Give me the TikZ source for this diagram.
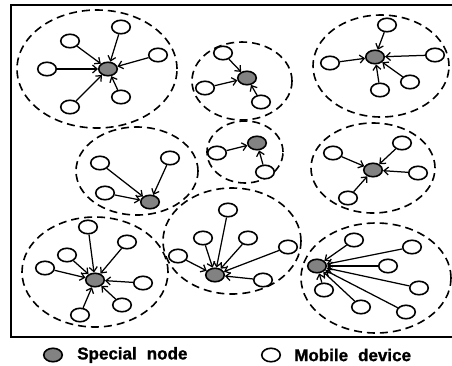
\documentclass[tikz,border=0pt]{standalone}
\usepackage{fontspec}
\setmainfont{Liberation Sans}
\newfontfamily\legendfont{Liberation Sans}[BoldFeatures={FakeBold=1.2}]
\usetikzlibrary{arrows.meta,shapes.geometric,positioning}
\begin{document}
\begin{tikzpicture}[x=1pt,y=-1pt,>={Straight Barb[length=4.5pt,width=8pt]}]
  \definecolor{shade}{HTML}{828282}
  \tikzset{mobile/.style={draw,ellipse,line width=1.6pt,fill=white,inner sep=0pt,minimum width=18.5pt,minimum height=13.5pt},
    special/.style={mobile,fill=shade},
    zone/.style={draw,line width=1.6pt,dash pattern=on 8pt off 5pt},
    link/.style={->,line width=1.25pt},
    legend/.style={font=\legendfont\fontsize{17}{17}\selectfont\bfseries,inner sep=0pt}}
  \useasboundingbox (0,0) rectangle (452,365);
  \draw[line width=2.2pt] (11,5) rectangle (454,337);
  % cluster zones
  \draw[zone] (97,69) ellipse [x radius=80pt,y radius=59pt];
  \draw[zone] (242,81) ellipse [x radius=50pt,y radius=39pt];
  \draw[zone] (381,66) ellipse [x radius=68pt,y radius=51pt];
  \draw[zone] (137,171) ellipse [x radius=61pt,y radius=44pt];
  \draw[zone] (245,152) ellipse [x radius=38pt,y radius=31pt];
  \draw[zone] (373,168) ellipse [x radius=62pt,y radius=45pt];
  \draw[zone] (95,272) ellipse [x radius=73pt,y radius=55pt];
  \draw[zone] (232,241) ellipse [x radius=69pt,y radius=53pt];
  \draw[zone] (376,278) ellipse [x radius=75pt,y radius=55pt];
  % special nodes
  \node[special] (sa) at (108,69) {};
  \node[special] (sb) at (247,78) {};
  \node[special] (sc) at (375,57) {};
  \node[special] (sd) at (150,202) {};
  \node[special] (se) at (257,143) {};
  \node[special] (sf) at (373,170) {};
  \node[special] (sg) at (95,280) {};
  \node[special] (sh) at (215,275) {};
  \node[special] (si) at (317,266) {};
  % mobile devices and their links
  \foreach \p [count=\i] in {(47,69),(70,41),(121,27),(158,55),(121,97),(70,107)}
    {\node[mobile] (ma\i) at \p {}; \draw[link] (ma\i) -- (sa);}
  \foreach \p [count=\i] in {(223,53),(205,88),(261,102)}
    {\node[mobile] (mb\i) at \p {}; \draw[link] (mb\i) -- (sb);}
  \foreach \p [count=\i] in {(387,25),(435,55),(330,63),(410,82),(380,90)}
    {\node[mobile] (mc\i) at \p {}; \draw[link] (mc\i) -- (sc);}
  \foreach \p [count=\i] in {(100,163),(170,158),(105,193)}
    {\node[mobile] (md\i) at \p {}; \draw[link] (md\i) -- (sd);}
  \foreach \p [count=\i] in {(217,153),(265,172)}
    {\node[mobile] (me\i) at \p {}; \draw[link] (me\i) -- (se);}
  \foreach \p [count=\i] in {(333,153),(402,143),(418,173),(348,198)}
    {\node[mobile] (mf\i) at \p {}; \draw[link] (mf\i) -- (sf);}
  \foreach \p [count=\i] in {(88,227),(127,242),(67,255),(45,268),(143,283),(122,305),(80,315)}
    {\node[mobile] (mg\i) at \p {}; \draw[link] (mg\i) -- (sg);}
  \foreach \p [count=\i] in {(228,210),(203,238),(248,238),(288,247),(178,256),(263,280)}
    {\node[mobile] (mh\i) at \p {}; \draw[link] (mh\i) -- (sh);}
  \foreach \p [count=\i] in {(354,240),(412,247),(388,266),(419,288),(324,290),(361,307),(406,312)}
    {\node[mobile] (mi\i) at \p {}; \draw[link] (mi\i) -- (si);}
  % legend
  \node[special] (keyspecial) at (53,355) {};
  \node[legend,right=14pt of keyspecial] (keyspeciallabel) {Special\hspace{10pt}node};
  \node[mobile] (keymobile) at (271,355) {};
  \node[legend,right=13pt of keymobile] (keymobilelabel) {Mobile\hspace{10pt}device};
\end{tikzpicture}
\end{document}
